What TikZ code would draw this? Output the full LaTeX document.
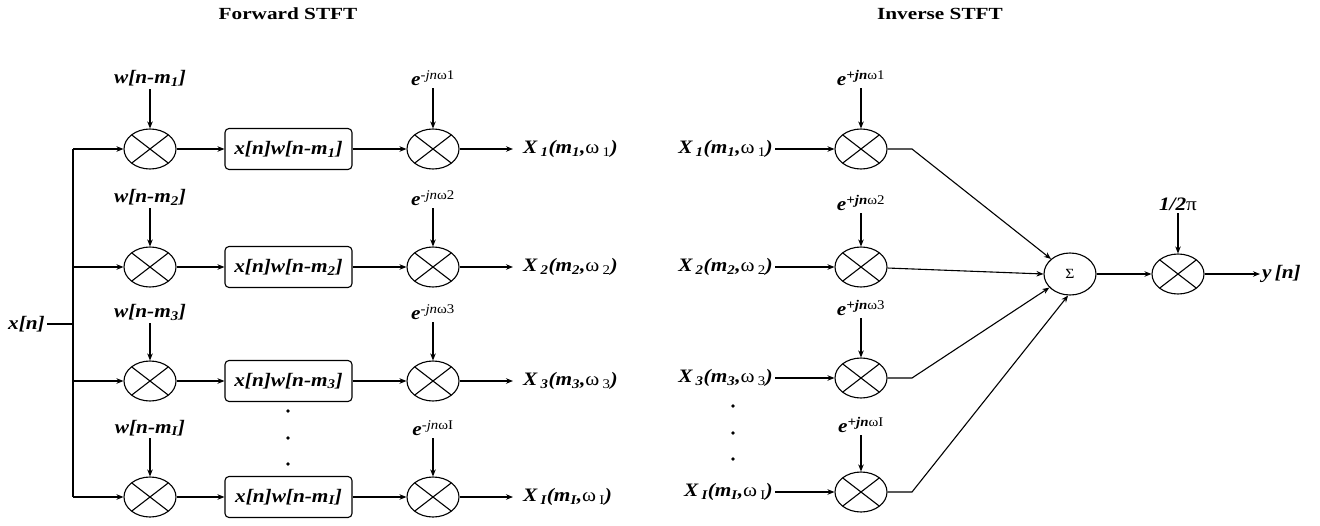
\documentclass[tikz,border=0pt]{standalone}
\usepackage{fontspec}
\setmainfont{Liberation Serif}[FakeStretch=1.12]
\newfontfamily\headfont{Liberation Serif}[FakeStretch=1.25]
\usetikzlibrary{shapes.geometric,arrows.meta}
\newcommand\bfit[1]{\textbf{\textit{#1}}}
\newcommand\lab{\fontsize{19}{22}\selectfont}
\newcommand\ttl{\headfont\fontsize{17}{20}\selectfont\bfseries}
\newcommand\sml{\fontsize{14}{16}\selectfont}
% exponential factors: e^{-jn omega_k} and e^{+jn omega_k}
\newcommand\expm[1]{\bfit{e}\textsuperscript{\textit{-jn}ω#1}}
\newcommand\expp[1]{\bfit{e}\textsuperscript{\bfit{+jn}ω#1}}
% spectrum sample X_k(m_k, omega_k)
\newcommand\spec[1]{\bfit{X\,\textsubscript{#1}(m\textsubscript{#1},}ω\,\textsubscript{#1}\bfit{)}}
\begin{document}
\begin{tikzpicture}[x=1pt,y=-1pt,
  wire/.style={line width=1.1pt},
  arr/.style={wire,-{Stealth[length=7pt,width=5.5pt]}},
  mult/.style={ellipse,draw,line width=1.1pt,minimum width=52pt,minimum height=40pt,inner sep=0pt,
    path picture={\draw[line width=1.1pt]
      (path picture bounding box.north west)--(path picture bounding box.south east)
      (path picture bounding box.south west)--(path picture bounding box.north east);}},
  prod/.style={draw,rounded corners=4pt,line width=1.1pt,minimum width=127pt,minimum height=41pt,inner sep=0pt,font=\lab},
  lab/.style={font=\lab,inner sep=2pt},
  dot/.style={circle,fill,inner sep=0pt,minimum size=3.8pt}]
\useasboundingbox (0,0) rectangle (1320,525);

% titles
\node[font=\ttl] (t1) at (288,14) {Forward STFT};
\node[font=\ttl] (t2) at (940,14) {Inverse STFT};

% ---------- forward transform ----------
\foreach \i/\y/\s/\wy/\ey in {1/149/1/89/88, 2/267/2/208/208, 3/381/3/323/322, 4/497/I/438/438}{
  \coordinate (bus\i) at (73,\y);
  \node[mult] (ma\i) at (150,\y) {};
  \node[prod] (bx\i) at (288.5,\y) {\bfit{x[n]w[n-m\textsubscript{\s}]}};
  \node[mult] (mb\i) at (433,\y) {};
  \node[lab,anchor=south] (w\i) at (150,\wy) {\bfit{w[n-m\textsubscript{\s}]}};
  \node[lab,anchor=south] (e\i) at (433,\ey) {\expm{\s}};
  \node[lab,anchor=west,inner xsep=10pt] (X\i) at (513,\y) {\spec{\s}};
  \draw[arr] (bus\i) -- (ma\i);
  \draw[arr] (ma\i) -- (bx\i);
  \draw[arr] (bx\i) -- (mb\i);
  \draw[arr] (w\i) -- (ma\i);
  \draw[arr] (e\i) -- (mb\i);
  \draw[arr] (mb\i) -- (X\i);
}
\draw[wire] (bus1) -- (bus4);
\node[lab,anchor=east] (xn) at (47,324) {\bfit{x[n]}};
\coordinate (xj) at (73,324);
\draw[wire] (xn) -- (xj);
\node[dot] (fd1) at (288,411) {};
\node[dot] (fd2) at (288,438) {};
\node[dot] (fd3) at (288,464) {};

% ---------- inverse transform ----------
\node[ellipse,draw,line width=1.1pt,minimum width=52pt,minimum height=42pt,inner sep=0pt,font=\sml] (sig) at (1070,274) {Σ};
\foreach \i/\y/\s/\ey in {1/149/1/88, 2/267/2/213, 3/378/3/318, 4/492/I/435}{
  \node[mult] (mc\i) at (861,\y) {};
  \node[lab,anchor=east] (Y\i) at (775,\y) {\spec{\s}};
  \node[lab,anchor=south] (p\i) at (861,\ey) {\expp{\s}};
  \coordinate (k\i) at (912,\y);
  \draw[arr] (Y\i) -- (mc\i);
  \draw[arr] (p\i) -- (mc\i);
}
\draw[arr] (mc1.east) -- (k1) -- (sig);
\draw[arr] (mc2) -- (sig.west);
\draw[arr] (mc3.east) -- (k3) -- (sig);
\draw[arr] (mc4.east) -- (k4) -- (sig.265);
\node[dot] (id1) at (733,406) {};
\node[dot] (id2) at (733,433) {};
\node[dot] (id3) at (733,459) {};

\node[mult] (fm) at (1178,274) {};
\node[lab,anchor=south] (g) at (1178,213) {\bfit{1/2}π};
\node[lab,anchor=west] (yn) at (1260,274) {\bfit{y\,[n]}};
\draw[arr] (sig) -- (fm);
\draw[arr] (g) -- (fm);
\draw[arr] (fm) -- (yn);
\end{tikzpicture}
\end{document}
